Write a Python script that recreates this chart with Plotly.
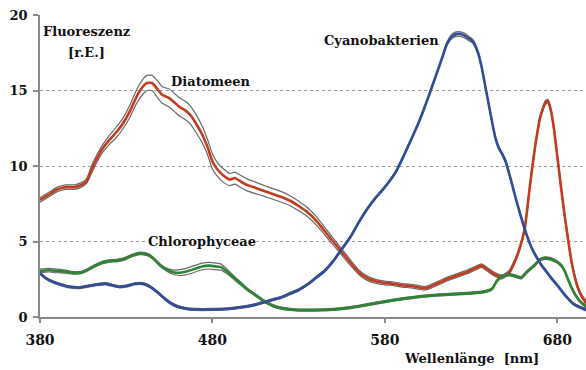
import plotly.graph_objects as go

# Fluorescence excitation spectra (mean and standard deviation) of three algal groups

dia_wl = [380, 385, 390, 395, 400, 404, 407, 410, 413, 416, 420, 424, 428, 432, 436, 440,
          442, 445, 448, 451, 455, 458, 461, 464, 467, 470, 474, 477, 480, 483, 486, 490,
          493, 496, 500, 505, 510, 515, 520, 525, 530, 535, 540, 545, 550, 555, 560, 565,
          570, 575, 580, 585, 590, 595, 600, 603, 607, 612, 617, 622, 627, 632, 636, 640,
          644, 648, 652, 655, 658, 661, 664, 667, 670, 673, 674.5, 676, 678, 680, 682, 684,
          686, 688, 690, 692, 694, 697]
dia_mean = [7.75, 8.1, 8.45, 8.6, 8.6, 8.75, 9.0, 9.8, 10.5, 11.1, 11.7, 12.2, 12.8, 13.6, 14.6, 15.3,
            15.5, 15.5, 15.1, 14.7, 14.5, 14.2, 13.9, 13.7, 13.4, 12.9, 12.1, 11.3, 10.3, 9.75, 9.4, 9.1,
            9.2, 9.0, 8.75, 8.55, 8.35, 8.15, 7.95, 7.7, 7.35, 6.95, 6.4, 5.7, 5.0, 4.3, 3.6, 2.95,
            2.55, 2.35, 2.25, 2.2, 2.1, 2.05, 1.95, 1.9, 2.05, 2.3, 2.55, 2.75, 2.95, 3.2, 3.4, 3.1,
            2.8, 2.65, 2.95, 3.6, 4.5, 5.8, 8.6, 11.2, 13.2, 14.2, 14.3, 13.8, 12.5, 10.6, 8.7, 6.9,
            5.3, 3.8, 2.7, 1.9, 1.4, 0.9]
dia_sd = [0.15, 0.15, 0.15, 0.15, 0.15, 0.15, 0.15, 0.25, 0.25, 0.25, 0.3, 0.35, 0.35, 0.4, 0.45, 0.5,
          0.5, 0.5, 0.55, 0.55, 0.6, 0.6, 0.6, 0.6, 0.6, 0.6, 0.55, 0.5, 0.5, 0.45, 0.45, 0.4,
          0.4, 0.4, 0.4, 0.38, 0.36, 0.35, 0.35, 0.33, 0.32, 0.3, 0.28, 0.25, 0.22, 0.2, 0.18, 0.15,
          0.14, 0.13, 0.12, 0.12, 0.12, 0.12, 0.12, 0.12, 0.12, 0.12, 0.12, 0.12, 0.12, 0.12, 0.12, 0.12,
          0.12, 0.12, 0.12, 0.12, 0.12, 0.12, 0.12, 0.12, 0.12, 0.12, 0.12, 0.12, 0.12, 0.12, 0.12, 0.12,
          0.12, 0.12, 0.1, 0.1, 0.1, 0.1]

chl_wl = [380, 385, 390, 395, 400, 404, 408, 412, 416, 420, 425, 429, 433, 437, 440, 443,
          446, 450, 454, 458, 462, 466, 470, 474, 478, 482, 485, 488, 492, 496, 500, 505,
          510, 515, 520, 525, 530, 540, 550, 560, 570, 580, 590, 600, 610, 620, 630, 638,
          642, 645, 648, 652, 656, 659, 662, 666, 670, 673, 676, 679, 682, 684, 686, 688,
          690, 693, 697]
chl_mean = [3.05, 3.1, 3.05, 3.0, 2.92, 2.95, 3.15, 3.4, 3.6, 3.7, 3.75, 3.85, 4.05, 4.2, 4.2, 4.1,
            3.85, 3.4, 3.1, 2.95, 2.95, 3.05, 3.2, 3.35, 3.4, 3.35, 3.3, 3.05, 2.65, 2.25, 1.85, 1.45,
            1.05, 0.75, 0.58, 0.5, 0.46, 0.46, 0.5, 0.62, 0.82, 1.02, 1.2, 1.35, 1.45, 1.52, 1.58, 1.68,
            1.85, 2.4, 2.7, 2.8, 2.7, 2.6, 2.95, 3.35, 3.8, 3.9, 3.85, 3.7, 3.45, 3.1, 2.55, 2.0,
            1.55, 1.05, 0.65]
chl_sd = [0.12, 0.12, 0.12, 0.1, 0.08, 0.08, 0.08, 0.08, 0.08, 0.08, 0.08, 0.08, 0.08, 0.08, 0.08, 0.08,
          0.08, 0.08, 0.1, 0.15, 0.2, 0.22, 0.22, 0.22, 0.22, 0.22, 0.2, 0.16, 0.12, 0.1, 0.08, 0.07,
          0.07, 0.07, 0.07, 0.07, 0.07, 0.07, 0.07, 0.07, 0.07, 0.07, 0.07, 0.07, 0.07, 0.07, 0.07, 0.07,
          0.07, 0.07, 0.08, 0.08, 0.08, 0.08, 0.08, 0.08, 0.08, 0.08, 0.08, 0.08, 0.08, 0.08, 0.08, 0.08,
          0.07, 0.07, 0.07]

cya_wl = [380, 383, 387, 392, 397, 403, 408, 413, 418, 422, 426, 430, 435, 440, 444, 448,
          452, 456, 460, 465, 470, 480, 490, 500, 505, 510, 515, 520, 525, 530, 535, 540,
          545, 550, 555, 560, 565, 570, 575, 580, 583, 587, 591, 595, 600, 605, 609, 613,
          616, 619, 622, 625, 628, 631, 634, 636, 638, 640, 642, 644, 646, 648, 650, 653,
          656, 659, 662, 665, 668, 671, 674, 677, 680, 683, 686, 689, 692, 697]
cya_mean = [2.9, 2.6, 2.35, 2.15, 2.0, 1.95, 2.05, 2.15, 2.2, 2.1, 2.0, 2.05, 2.2, 2.2, 2.0, 1.65,
            1.25, 0.9, 0.68, 0.55, 0.5, 0.5, 0.55, 0.7, 0.82, 0.98, 1.15, 1.3, 1.55, 1.8, 2.15, 2.6,
            3.05, 3.7, 4.5, 5.3, 6.3, 7.2, 7.95, 8.6, 9.05, 9.75, 10.7, 11.7, 13.0, 14.5, 15.8, 17.1,
            18.1, 18.6, 18.75, 18.7, 18.5, 18.25, 17.5, 16.6, 15.4, 14.2, 13.0, 11.9, 11.2, 10.8, 10.3, 9.1,
            7.8, 6.6, 5.5, 4.6, 3.95, 3.4, 2.95, 2.5, 2.1, 1.65, 1.25, 0.9, 0.7, 0.45]
cya_sd = [0.07] * 48 + [0.1, 0.15, 0.15, 0.15, 0.15, 0.12, 0.1] + [0.07] * 23

series = [
    ("Diatomeen", dia_wl, dia_mean, dia_sd, "#c23d1f"),
    ("Chlorophyceae", chl_wl, chl_mean, chl_sd, "#2d8533"),
    ("Cyanobakterien", cya_wl, cya_mean, cya_sd, "#314d9a"),
]

fig = go.Figure()
envelope_color = "#686868"
for name, wl, mean, sd, color in series:
    upper = [m + s for m, s in zip(mean, sd)]
    lower = [m - s for m, s in zip(mean, sd)]
    for band in (upper, lower):
        fig.add_trace(go.Scatter(
            x=wl, y=band, mode="lines", showlegend=False, hoverinfo="skip",
            line=dict(color=envelope_color, width=1.2, shape="spline", smoothing=0.5),
        ))
    fig.add_trace(go.Scatter(
        x=wl, y=mean, mode="lines", name=name, showlegend=False,
        line=dict(color=color, width=2.6, shape="spline", smoothing=0.5),
    ))

SERIF = "DejaVu Serif"
label_font = dict(family=SERIF, size=13, color="#111111")

def label(text, x, y, bg=None):
    fig.add_annotation(
        x=x, y=y, xref="x", yref="y", text=f"<b>{text}</b>", showarrow=False,
        font=label_font, xanchor="center", yanchor="middle",
        bgcolor=bg, borderpad=0,
    )

label("Fluoreszenz", 406.7, 18.9)
label("[r.E.]", 406.7, 17.5)
label("Diatomeen", 478.9, 15.58, bg="white")
label("Cyanobakterien", 578.0, 18.32)
label("Chlorophyceae", 473.7, 4.97, bg="white")

fig.add_annotation(
    x=630.2, y=-0.136, xref="x", yref="paper", text="<b>Wellenlänge  [nm]</b>",
    showarrow=False, font=label_font, xanchor="center", yanchor="middle",
)

fig.update_layout(
    width=586, height=370,
    margin=dict(l=40, r=0, t=15, b=53),
    paper_bgcolor="white", plot_bgcolor="white",
    showlegend=False,
    xaxis=dict(
        range=[380, 696.6], tickvals=[380, 480, 580, 680],
        ticktext=["<b>380</b>", "<b>480</b>", "<b>580</b>", "<b>680</b>"],
        showgrid=False, zeroline=False,
        showline=True, linecolor="#8a8a8a", linewidth=1.5,
        ticks="outside", ticklen=4, tickcolor="#8a8a8a", tickwidth=1.5,
        tickfont=dict(family=SERIF, size=14, color="#111111"), ticklabelstandoff=5,
    ),
    yaxis=dict(
        range=[0, 20], tickvals=[0, 5, 10, 15, 20],
        ticktext=["<b>0</b>", "<b>5</b>", "<b>10</b>", "<b>15</b>", "<b>20</b>"],
        showgrid=True, gridcolor="#9a9a9a", gridwidth=1, griddash="dot",
        zeroline=False,
        showline=True, linecolor="#8a8a8a", linewidth=1.5,
        ticks="outside", ticklen=5, tickcolor="#8a8a8a", tickwidth=1.5,
        tickfont=dict(family=SERIF, size=13, color="#111111"),
        ticklabelstandoff=3,
    ),
)

fig.write_html("out.html")
